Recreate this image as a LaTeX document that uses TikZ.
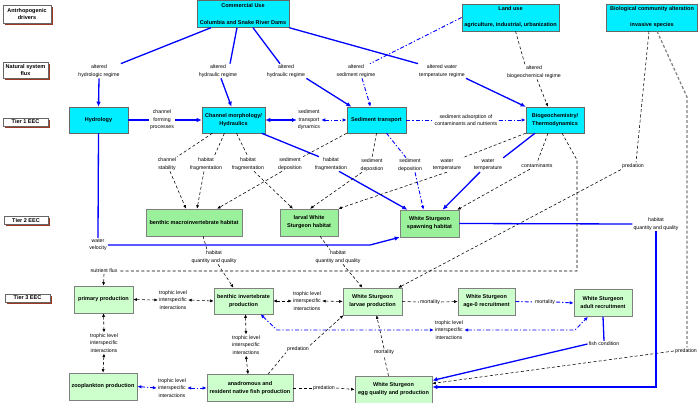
\documentclass[tikz,border=0pt]{standalone}
\usepackage{fontspec}
\setmainfont{Liberation Sans}
\usetikzlibrary{arrows.meta,shadows}

\definecolor{drvcyan}{RGB}{0,238,255}
\definecolor{habgreen}{RGB}{155,240,155}
\definecolor{prodgreen}{RGB}{205,255,205}
\definecolor{tiershadow}{RGB}{160,55,35}

\tikzset{
  drvbox/.style={draw=gray!80!black, fill=drvcyan, align=center, inner sep=0pt,
    font=\fontsize{5.5}{8}\selectfont\bfseries},
  habbox/.style={draw=gray, fill=habgreen, align=center, inner sep=0pt,
    font=\fontsize{5.5}{8}\selectfont\bfseries},
  prodbox/.style={draw=gray, fill=prodgreen, align=center, inner sep=0pt,
    font=\fontsize{5.5}{8}\selectfont\bfseries},
  tierbox/.style={draw=gray!80!black, line width=0.6pt, fill=white, align=center, inner sep=0pt,
    font=\fontsize{5.5}{7}\selectfont\bfseries,
    drop shadow={shadow xshift=1.6pt, shadow yshift=-1.6pt, fill=tiershadow, opacity=1}},
  lab/.style={align=center, inner sep=1pt, font=\fontsize{5.2}{7.4}\selectfont},
  bline/.style={draw=blue, line width=1.3pt},
  barrow/.style={bline, -{Latex[length=5pt,width=4.5pt]}},
  bboth/.style={bline, {Latex[length=5pt,width=4.5pt]}-{Latex[length=5pt,width=4.5pt]}},
  dline/.style={draw=black, line width=0.55pt, dash pattern=on 3pt off 2.2pt},
  darrow/.style={dline, -{Latex[length=3.5pt,width=3pt]}},
  dboth/.style={dline, {Latex[length=3.5pt,width=3pt]}-{Latex[length=3.5pt,width=3pt]}},
  ddline/.style={draw=blue, line width=0.9pt, dash pattern=on 4pt off 2pt on 1.2pt off 2pt},
  ddarrow/.style={ddline, -{Latex[length=4pt,width=3.5pt]}},
  ddboth/.style={ddline, {Latex[length=4pt,width=3.5pt]}-{Latex[length=4pt,width=3.5pt]}},
  gline/.style={draw=gray, line width=1.2pt, dash pattern=on 3pt off 2pt}
}

\begin{document}
\begin{tikzpicture}[x=0.035cm, y=-0.035cm]
    \useasboundingbox (0,0) rectangle (700,403);
    % tier labels on the left
    \node[tierbox, minimum width=48pt, minimum height=18pt] (drivers) at (27,14) {Antrhopogenic\\drivers};
    \node[tierbox, minimum width=45pt, minimum height=16pt] (flux) at (25.5,70) {Natural system\\flux};
    \node[tierbox, minimum width=45pt, minimum height=8pt] (tierone) at (25.5,122) {Tier 1 EEC};
    \node[tierbox, minimum width=44pt, minimum height=8pt] (tiertwo) at (26,220.5) {Tier 2 EEC};
    \node[tierbox, minimum width=45pt, minimum height=8pt] (tierthree) at (27.5,298) {Tier 3 EEC};

    % anthropogenic drivers
    \node[drvbox, minimum width=92pt, minimum height=27pt] (comm) at (243,14) {Commercial Use\\[9pt]Columbia and Snake River Dams};
    \node[drvbox, minimum width=97pt, minimum height=27pt] (landuse) at (510.5,17.5) {Land use\\[8pt]agriculture, industrial, urbanization};
    \node[drvbox, minimum width=91pt, minimum height=27pt] (biocomm) at (652,17.5) {Biological community alteration\\[8pt]invasive species};

    % natural system flux labels
    \node[lab] (hydrolab) at (99,71) {altered\\hydrologic regime};
    \node[lab] (hydraula) at (218,71) {altered\\hydraulic regime};
    \node[lab] (hydraulb) at (286,71) {altered\\hydraulic regime};
    \node[lab] (sedreg) at (356,71) {altered\\sediment regime};
    \node[lab] (wtreg) at (442,71) {altered water\\temperature regime};
    \node[lab] (bgreg) at (534,72) {altered\\biogeochemical regime};

    % tier 1
    \node[drvbox, minimum width=59pt, minimum height=26pt] (hydro) at (98.5,120) {Hydrology};
    \node[drvbox, minimum width=63pt, minimum height=26pt] (chan) at (233.5,120) {Channel morphology/\\Hydraulics};
    \node[drvbox, minimum width=59pt, minimum height=26pt] (sed) at (376.5,120) {Sediment transport};
    \node[drvbox, minimum width=58pt, minimum height=26pt] (biogeo) at (555,120) {Biogeochemistry/\\Thermodynamics};
    \node[lab] (cfp) at (162,120) {channel\\forming\\processes};
    \node[lab] (std) at (309,120) {sediment\\transport\\dynamics};
    \node[lab] (sadsorb) at (466,120) {sediment adsorption of\\contaminants and nutrients};

    % tier 1 to tier 2 labels
    \node[lab] (cstab) at (167,164) {channel\\stability};
    \node[lab] (hfraga) at (206,164) {habitat\\fragmentation};
    \node[lab] (hfragb) at (248,164) {habitat\\fragmentation};
    \node[lab] (sdepa) at (290,164) {sediment\\deposition};
    \node[lab] (hfragc) at (331,164) {habitat\\fragmentation};
    \node[lab] (sdepb) at (372,165) {sediment\\depostion};
    \node[lab] (sdepc) at (410,165) {sediment\\deposition};
    \node[lab] (wtempa) at (447,165) {water\\temperature};
    \node[lab] (wtempb) at (488,165) {water\\temperature};
    \node[lab] (contam) at (537,166) {contaminants};
    \node[lab] (preda) at (633,166) {predation};

    % tier 2
    \node[habbox, minimum width=96pt, minimum height=27pt] (bmh) at (194,222.5) {benthic macroinvertebrate habitat};
    \node[habbox, minimum width=58pt, minimum height=27pt] (lwsh) at (309,222.5) {larval White\\Sturgeon habitat};
    \node[habbox, minimum width=59pt, minimum height=27pt] (wssh) at (429.5,223.5) {White Sturgeon\\spawning habitat};
    \node[lab] (wvel) at (98,245) {water\\velocity};
    \node[lab] (hqqa) at (214,257) {habitat\\quantity and quality};
    \node[lab] (hqqb) at (338,257) {habitat\\quantity and quality};
    \node[lab] (hqqc) at (656,224) {habitat\\quantity and quality};
    \node[lab] (nflux) at (104,271) {nutrient flux};

    % tier 3
    \node[prodbox, minimum width=59pt, minimum height=27pt] (pp) at (103.5,299.5) {primary production};
    \node[prodbox, minimum width=59pt, minimum height=26pt] (bip) at (243.5,301) {benthic invertebrate\\production};
    \node[prodbox, minimum width=59pt, minimum height=27pt] (wslp) at (372.5,301.5) {White Sturgeon\\larvae production};
    \node[prodbox, minimum width=57pt, minimum height=27pt] (agezero) at (486.5,301.5) {White Sturgeon\\age-0 recruitment};
    \node[prodbox, minimum width=58pt, minimum height=27pt] (adult) at (603,303) {White Sturgeon\\adult recruitment};
    \node[prodbox, minimum width=68pt, minimum height=27pt] (zoo) at (103,386.5) {zooplankton production};
    \node[prodbox, minimum width=86pt, minimum height=27pt] (anad) at (250,388) {anadromous and\\resident native fish production};
    \node[prodbox, minimum width=77pt, minimum height=27pt] (egg) at (393.5,389.5) {White Sturgeon\\egg quality and production};
    \node[lab] (tlia) at (173,300) {trophic level\\interspecific\\interactions};
    \node[lab] (tlib) at (307,301) {trophic level\\interspecific\\interactions};
    \node[lab] (tlic) at (104,343) {trophic level\\interspecific\\interactions};
    \node[lab] (tlid) at (246,345) {trophic level\\interspecific\\interactions};
    \node[lab] (tlie) at (172,388) {trophic level\\interspecific\\interactions};
    \node[lab] (tlif) at (449,330) {trophic level\\interspecific\\interactions};
    \node[lab] (morta) at (430,302) {mortality};
    \node[lab] (mortb) at (545,302) {mortality};
    \node[lab] (mortc) at (384,352) {mortality};
    \node[lab] (predb) at (298,349) {predation};
    \node[lab] (predc) at (324,388) {predation};
    \node[lab] (fcond) at (604,344) {fish condition};
    \node[lab] (predd) at (686,351) {predation};

    % bend points
    \coordinate (gbend) at (687,97);
    \coordinate (nfa) at (577,160);
    \coordinate (nfb) at (577,271);
    \coordinate (wvbend) at (370,245);
    \coordinate (hqbend) at (656,387);
    \coordinate (ddbend) at (277,330);
    \coordinate (ddbendb) at (575,330);

    % drivers to tier 1
    \draw[bline] ([xshift=-32pt]comm.south) -- (hydrolab.north east);
    \draw[barrow] (hydrolab.south) -- (hydro.north);
    \draw[bline] ([xshift=-6pt]comm.south) -- ([xshift=12pt]hydraula.north);
    \draw[barrow] ([xshift=3pt]hydraula.south) -- ([xshift=-2pt]chan.north);
    \draw[bline] ([xshift=10pt]comm.south) -- ([xshift=-6pt]hydraulb.north);
    \draw[barrow] (hydraulb.south east) -- ([xshift=-25pt]sed.north);
    \draw[bline] (comm.south east) -- (wtreg.north west);
    \draw[barrow] (wtreg.south east) -- (biogeo.north west);
    \draw[ddline] (landuse.west) -- ([xshift=14pt]sedreg.north);
    \draw[ddarrow] ([xshift=6pt]sedreg.south) -- ([xshift=-6pt]sed.north);
    \draw[dline] ([xshift=5pt]landuse.south) -- ([xshift=-9pt]bgreg.north);
    \draw[darrow] ([xshift=3pt]bgreg.south) -- ([xshift=-7pt]biogeo.north);
    \draw[dline] ([xshift=-3pt]biocomm.south) -- ([xshift=3pt]preda.north);
    \draw[darrow] (preda.south west) -- ([xshift=-4pt]wslp.north east);
    \draw[gline] ([xshift=5pt]biocomm.south) -- (gbend) -- (gbend |- predd.north);
    \draw[darrow] (predd.west) -- ([yshift=6pt]egg.east);

    % tier 1 links
    \draw[bline] (hydro.east) -- (cfp.west);
    \draw[barrow] (cfp.east) -- (chan.west);
    \draw[bboth] (chan.east) -- (std.west);
    \draw[ddboth] (std.east) -- (sed.west);
    \draw[ddline] (sed.east) -- (sadsorb.west);
    \draw[ddarrow] (sadsorb.east) -- (biogeo.west);

    % tier 1 to tier 2
    \draw[dline] ([xshift=-21pt]chan.south) -- (cstab.north east);
    \draw[darrow] ([xshift=3pt]cstab.south) -- ([xshift=-8pt]bmh.north);
    \draw[dline] ([xshift=-9pt]chan.south) -- ([xshift=8pt]hfraga.north);
    \draw[darrow] ([xshift=-2pt]hfraga.south) -- ([xshift=3pt]bmh.north);
    \draw[dline] ([xshift=3pt]chan.south) -- (hfragb.north);
    \draw[darrow] ([xshift=6pt]hfragb.south) -- ([xshift=-16pt]lwsh.north);
    \draw[bline] ([xshift=28pt]chan.south) -- ([xshift=-12pt]hfragc.north);
    \draw[barrow] ([xshift=8pt]hfragc.south) -- ([xshift=-22pt]wssh.north);
    \draw[dline] (sed.south west) -- (sdepa.north east);
    \draw[darrow] ([xshift=-8pt]sdepa.south) -- ([xshift=23pt]bmh.north);
    \draw[dline] (sed.south) -- (sdepb.north);
    \draw[darrow] ([xshift=-10pt]sdepb.south) -- ([xshift=1pt]lwsh.north);
    \draw[ddline] ([xshift=10pt]sed.south) -- ([xshift=-4pt]sdepc.north);
    \draw[ddarrow] ([xshift=5pt]sdepc.south) -- ([xshift=-6pt]wssh.north);
    \draw[dline] (biogeo.south west) -- (wtempa.north east);
    \draw[darrow] (wtempa.south) -- (lwsh.north east);
    \draw[bline] ([xshift=-20pt]biogeo.south) -- (wtempb.north east);
    \draw[barrow] ([xshift=-8pt]wtempb.south) -- ([xshift=13pt]wssh.north);
    \draw[dline] ([xshift=-7pt]biogeo.south) -- (contam.north);
    \draw[darrow] ([xshift=-7pt]contam.south) -- ([xshift=-2pt]wssh.north east);
    \draw[bline] (hydro.south) -- (wvel.north);
    \draw[barrow] (wvel.east) -- (wvel.east -| wvbend) -- (wssh.south west);

    % tier 2 to tier 3
    \draw[dline] ([xshift=9pt]bmh.south) -- ([xshift=-7pt]hqqa.north);
    \draw[darrow] ([xshift=4pt]hqqa.south) -- ([xshift=-10pt]bip.north);
    \draw[dline] ([xshift=11pt]lwsh.south) -- ([xshift=-8pt]hqqb.north);
    \draw[darrow] ([xshift=5pt]hqqb.south) -- ([xshift=-10pt]wslp.north);
    \draw[bline] (wssh.east) -- (hqqc.west);
    \draw[barrow] (hqqc.south) -- (hqbend) -- (egg.east |- hqbend);
    \draw[dline] ([xshift=7pt]biogeo.south) -- (nfa) -- (nfb) -- (nflux.east);
    \draw[darrow] (nflux.south) -- (pp.north);

    % tier 3 links
    \draw[dboth] (pp.east) -- (tlia.west);
    \draw[dboth] (tlia.east) -- (bip.west);
    \draw[dboth] (bip.east) -- (tlib.west);
    \draw[dboth] (tlib.east) -- (wslp.west);
    \draw[dboth] (pp.south) -- (tlic.north);
    \draw[dboth] (tlic.south) -- (zoo.north);
    \draw[dboth] ([xshift=2pt]bip.south) -- (tlid.north);
    \draw[dboth] (tlid.south) -- ([xshift=-2pt]anad.north);
    \draw[ddboth] (zoo.east) -- (tlie.west);
    \draw[ddboth] (tlie.east) -- (anad.west);
    \draw[ddboth] ([xshift=17pt]bip.south) -- (ddbend) -- (tlif.west);
    \draw[ddboth] (tlif.east) -- (ddbendb) -- ([xshift=-15pt]adult.south);
    \draw[dline] (wslp.east) -- (morta.west);
    \draw[darrow] (morta.east) -- (agezero.west);
    \draw[ddline] (agezero.east) -- (mortb.west);
    \draw[ddarrow] (mortb.east) -- (adult.west);
    \draw[dline] ([xshift=-5pt]egg.north) -- (mortc.south);
    \draw[darrow] (mortc.north) -- ([xshift=4pt]wslp.south);
    \draw[dline] ([xshift=18pt]anad.north) -- (predb.south west);
    \draw[darrow] (predb.north east) -- ([xshift=-29pt]wslp.south);
    \draw[dline] (anad.east) -- (predc.west);
    \draw[darrow] (predc.east) -- (egg.west);
    \draw[bline] (adult.south) -- (fcond.north);
    \draw[barrow] (fcond.west) -- ([yshift=9pt]egg.east);
\end{tikzpicture}
\end{document}
